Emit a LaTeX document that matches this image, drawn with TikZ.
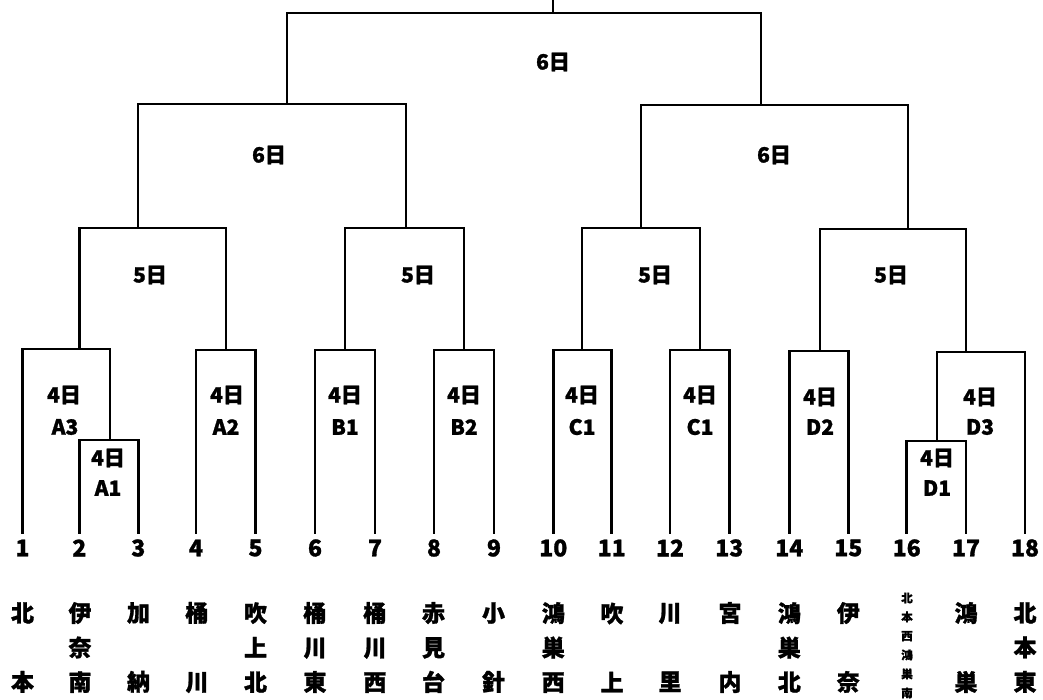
\documentclass[tikz,border=0pt]{standalone}
\usepackage{fontspec}
\newfontfamily\jp{Noto Sans CJK JP}[BoldFeatures={FakeBold=1.2}]
\begin{document}
\begin{tikzpicture}[x=1pt,y=-1pt,
  br/.style={line width=2.8pt, line join=miter, line cap=rect},
  lbl/.style={font=\jp\bfseries\fontsize{21}{21}\selectfont, inner sep=0pt},
  num/.style={font=\jp\bfseries\fontsize{23}{23}\selectfont, inner sep=0pt},
  team/.style={font=\jp\bfseries\fontsize{23}{34.5}\selectfont, align=center, inner sep=0pt},
  smallteam/.style={font=\jp\bfseries\fontsize{11.5}{19}\selectfont, align=center, inner sep=0pt}]
\useasboundingbox[fill=white] (0,0) rectangle (1043,700);
% leaves
\foreach \i/\x in {1/22.5,2/79.3,3/138.3,4/196,5/255.5,6/315,7/375,8/434,9/494,10/553.3,11/611.7,12/670,13/729.3,14/789.3,15/848.3,16/906.7,17/966,18/1025}{
  \coordinate (l\i) at (\x,533);
  \node[num] (n\i) at (\x,548) {\i};
}
% match points
\coordinate (mA1) at (110,440);
\coordinate (mA3) at (79.3,349);
\coordinate (mA2) at (226,350);
\coordinate (mR5A) at (138,228);
\coordinate (mB1) at (345,350);
\coordinate (mB2) at (464,350);
\coordinate (mR5B) at (406,228);
\coordinate (mL6) at (287,104);
\coordinate (mC1a) at (582,350);
\coordinate (mC1b) at (700,350);
\coordinate (mR5C) at (641,228);
\coordinate (mD1) at (937,441);
\coordinate (mD3) at (966,352);
\coordinate (mD2) at (820,351);
\coordinate (mR5D) at (908,229);
\coordinate (mR6) at (761,105);
\coordinate (mF) at (553,13);
\coordinate (top) at (553,-3);
% bracket
\draw[br] (l2) |- (mA1) -| (l3);
\draw[br] (l1) |- (mA3) -| (mA1);
\draw[br] (l4) |- (mA2) -| (l5);
\draw[br] (mA3) |- (mR5A) -| (mA2);
\draw[br] (l6) |- (mB1) -| (l7);
\draw[br] (l8) |- (mB2) -| (l9);
\draw[br] (mB1) |- (mR5B) -| (mB2);
\draw[br] (mR5A) |- (mL6) -| (mR5B);
\draw[br] (l10) |- (mC1a) -| (l11);
\draw[br] (l12) |- (mC1b) -| (l13);
\draw[br] (mC1a) |- (mR5C) -| (mC1b);
\draw[br] (l16) |- (mD1) -| (l17);
\draw[br] (mD1) |- (mD3) -| (l18);
\draw[br] (l14) |- (mD2) -| (l15);
\draw[br] (mD2) |- (mR5D) -| (mD3);
\draw[br] (mR5C) |- (mR6) -| (mR5D);
\draw[br] (mL6) |- (mF) -| (mR6);
\draw[br] (mF) -- (top);
% round labels
\node[lbl] (tF) at (553,62) {6日};
\node[lbl] (tL6) at (269,155) {6日};
\node[lbl] (tR6) at (774,155) {6日};
\node[lbl] (t5A) at (150,275) {5日};
\node[lbl] (t5B) at (418,275) {5日};
\node[lbl] (t5C) at (655,275) {5日};
\node[lbl] (t5D) at (891,275) {5日};
% first round labels
\node[lbl] (dA3) at (64,395) {4日};  \node[lbl] (cA3) at (65,427) {A3};
\node[lbl] (dA1) at (108,458) {4日}; \node[lbl] (cA1) at (108,488) {A1};
\node[lbl] (dA2) at (227,395) {4日}; \node[lbl] (cA2) at (226,427) {A2};
\node[lbl] (dB1) at (345,395) {4日}; \node[lbl] (cB1) at (345,427) {B1};
\node[lbl] (dB2) at (464,395) {4日}; \node[lbl] (cB2) at (464,427) {B2};
\node[lbl] (dC1a) at (582,395) {4日}; \node[lbl] (cC1a) at (582,427) {C1};
\node[lbl] (dC1b) at (700,395) {4日}; \node[lbl] (cC1b) at (700,427) {C1};
\node[lbl] (dD2) at (820,397) {4日}; \node[lbl] (cD2) at (820,427) {D2};
\node[lbl] (dD3) at (980,397) {4日}; \node[lbl] (cD3) at (980,427) {D3};
\node[lbl] (dD1) at (937,458) {4日}; \node[lbl] (cD1) at (937,488) {D1};
% teams
\node[team] (s1) at (22.5,647.5) {北\\\mbox{}\\本};
\node[team] (s2) at (80,647.5) {伊\\奈\\南};
\node[team] (s3) at (138.5,647.5) {加\\\mbox{}\\納};
\node[team] (s4) at (197,647.5) {桶\\\mbox{}\\川};
\node[team] (s5) at (255.5,647.5) {吹\\上\\北};
\node[team] (s6) at (315,647.5) {桶\\川\\東};
\node[team] (s7) at (375,647.5) {桶\\川\\西};
\node[team] (s8) at (433.5,647.5) {赤\\見\\台};
\node[team] (s9) at (493.5,647.5) {小\\\mbox{}\\針};
\node[team] (s10) at (553.3,647.5) {鴻\\巣\\西};
\node[team] (s11) at (612,647.5) {吹\\\mbox{}\\上};
\node[team] (s12) at (670,647.5) {川\\\mbox{}\\里};
\node[team] (s13) at (730,647.5) {宮\\\mbox{}\\内};
\node[team] (s14) at (789.3,647.5) {鴻\\巣\\北};
\node[team] (s15) at (848.3,647.5) {伊\\\mbox{}\\奈};
\node[smallteam] (s16) at (907,645.5) {北\\本\\西\\鴻\\巣\\南};
\node[team] (s17) at (966,647.5) {鴻\\\mbox{}\\巣};
\node[team] (s18) at (1025,647.5) {北\\本\\東};
\end{tikzpicture}
\end{document}
